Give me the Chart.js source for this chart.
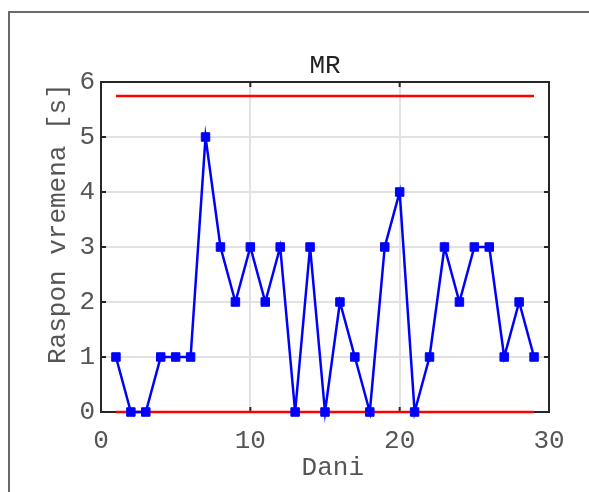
<!DOCTYPE html>
<html>
<head>
<meta charset="utf-8">
<script src="https://cdn.jsdelivr.net/npm/chart.js@4"></script>
<style>
    body { margin: 0; background: #fff; overflow: hidden; }
    #wrap { position: relative; width: 589px; height: 492px; overflow: hidden; }
    #frame { position: absolute; left: 8px; top: 11px; width: 700px; height: 600px; border: 2px solid #6a6a6a; }
    #wrap canvas { position: absolute; left: 0; top: 0; }
</style>
</head>
<body>
<div id="wrap">
    <div id="frame"></div>
    <canvas id="mrChart" width="589" height="492"></canvas>
</div>
<script>
// MR chart data
const days = [1, 2, 3, 4, 5, 6, 7, 8, 9, 10, 11, 12, 13, 14, 15, 16, 17, 18, 19, 20, 21, 22, 23, 24, 25, 26, 27, 28, 29];
const mrValues = [1, 0, 0, 1, 1, 1, 5, 3, 2, 3, 2, 3, 0, 3, 0, 2, 1, 0, 3, 4, 0, 1, 3, 2, 3, 3, 1, 2, 1];
const uclValue = 5.745;
const lclValue = 0;
const xTicks = [0, 10, 20, 30];
const yTicks = [0, 1, 2, 3, 4, 5, 6];

const mono = "'Liberation Mono', 'Courier New', monospace";
const textColor = '#555';

// box around the plot + inward tick marks (matlab style)
const boxPlugin = {
    id: 'box',
    beforeDatasetsDraw(chart) {
        const { ctx, chartArea: a, scales } = chart;
        ctx.save();
        ctx.strokeStyle = '#262626';
        ctx.lineWidth = 2;
        ctx.beginPath();
        xTicks.forEach(v => {
            const px = scales.x.getPixelForValue(v);
            ctx.moveTo(px, a.bottom); ctx.lineTo(px, a.bottom - 5);
            ctx.moveTo(px, a.top); ctx.lineTo(px, a.top + 5);
        });
        yTicks.forEach(v => {
            const py = scales.y.getPixelForValue(v);
            ctx.moveTo(a.left, py); ctx.lineTo(a.left + 5, py);
            ctx.moveTo(a.right, py); ctx.lineTo(a.right - 5, py);
        });
        ctx.stroke();
        ctx.strokeRect(a.left, a.top, a.right - a.left, a.bottom - a.top);
        ctx.restore();
    }
};

document.addEventListener('DOMContentLoaded', () => {
    const ctx = document.getElementById('mrChart').getContext('2d');
    new Chart(ctx, {
        type: 'line',
        data: {
            datasets: [
                {
                    label: 'MR',
                    data: days.map((d, i) => ({ x: d, y: mrValues[i] })),
                    borderColor: '#0000ff',
                    backgroundColor: '#0000ff',
                    borderWidth: 2.5,
                    pointStyle: 'rect',
                    pointRadius: 6,
                    pointBorderWidth: 1,
                    pointBackgroundColor: '#0000ff',
                    tension: 0,
                    clip: false,
                    order: 0
                },
                {
                    label: 'UCL',
                    data: [{ x: days[0], y: uclValue }, { x: days[days.length - 1], y: uclValue }],
                    borderColor: '#ff0000',
                    borderWidth: 2.5,
                    pointRadius: 0,
                    clip: false,
                    order: 1
                },
                {
                    label: 'LCL',
                    data: [{ x: days[0], y: lclValue }, { x: days[days.length - 1], y: lclValue }],
                    borderColor: '#ff0000',
                    borderWidth: 2.5,
                    pointRadius: 0,
                    clip: false,
                    order: 1
                }
            ]
        },
        options: {
            responsive: false,
            animation: false,
            layout: { padding: { left: 0, right: 40, top: 50.8, bottom: 0 } },
            plugins: {
                legend: { display: false },
                tooltip: { enabled: false },
                title: {
                    display: true,
                    text: 'MR',
                    fullSize: false,
                    color: '#222',
                    font: { family: mono, size: 26, weight: 'normal', lineHeight: 1.2 },
                    padding: { top: 0, bottom: 0 }
                }
            },
            scales: {
                x: {
                    type: 'linear',
                    min: 0,
                    max: 30,
                    afterFit: s => { s.height = 80; },
                    afterBuildTicks: s => { s.ticks = xTicks.map(v => ({ value: v })); },
                    ticks: { color: textColor, padding: 14, font: { family: mono, size: 26 } },
                    grid: { color: '#e2e2e2', lineWidth: 2, drawTicks: false },
                    border: { display: false },
                    title: {
                        display: true,
                        text: ' Dani',
                        color: textColor,
                        font: { family: mono, size: 26 },
                        padding: { top: 0, bottom: 8 }
                    }
                },
                y: {
                    min: 0,
                    max: 6,
                    afterFit: s => { s.width = 101; },
                    afterBuildTicks: s => { s.ticks = yTicks.map(v => ({ value: v })); },
                    ticks: { color: textColor, padding: 6, font: { family: mono, size: 26 } },
                    grid: { color: '#e2e2e2', lineWidth: 2, drawTicks: false },
                    border: { display: false },
                    title: {
                        display: true,
                        text: '   Raspon vremena [s]',
                        color: textColor,
                        font: { family: mono, size: 26 },
                        padding: { top: 43, bottom: 0 }
                    }
                }
            }
        },
        plugins: [boxPlugin]
    });
});
</script>
</body>
</html>
